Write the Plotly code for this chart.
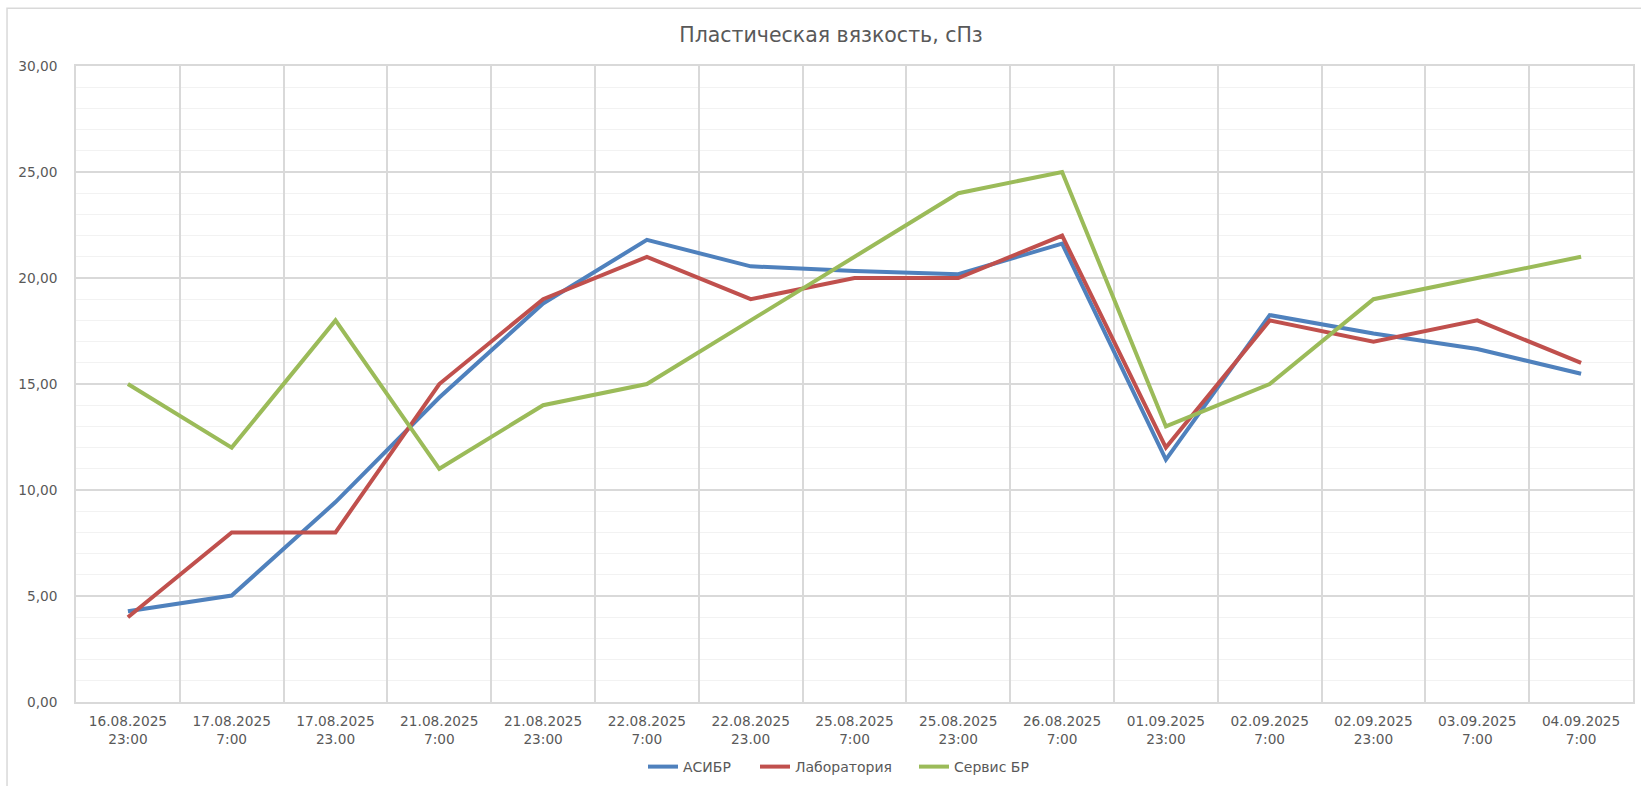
import plotly.graph_objects as go

categories = [
    "16.08.2025<br>23:00", "17.08.2025<br>7:00", "17.08.2025<br>23.00",
    "21.08.2025<br>7:00", "21.08.2025<br>23:00", "22.08.2025<br>7:00",
    "22.08.2025<br>23.00", "25.08.2025<br>7:00", "25.08.2025<br>23:00",
    "26.08.2025<br>7:00", "01.09.2025<br>23:00", "02.09.2025<br>7:00",
    "02.09.2025<br>23:00", "03.09.2025<br>7:00", "04.09.2025<br>7:00",
]
asibr = [4.28, 5.02, 9.43, 14.36, 18.8, 21.8, 20.55, 20.33, 20.18, 21.62, 11.43, 18.25, 17.38, 16.65, 15.48]
laboratoriya = [4, 8, 8, 15, 19, 21, 19, 20, 20, 22, 12, 18, 17, 18, 16]
servis_br = [15, 12, 18, 11, 14, 15, 18, 21, 24, 25, 13, 15, 19, 20, 21]

series_names = ["АСИБР", "Лаборатория", "Сервис БР"]
series_colors = ["#4F81BD", "#C0504D", "#9BBB59"]
title_text = "Пластическая вязкость, сПз"

FONT = "DejaVu Sans"
TXT = "#595959"
GRID = "#D9D9D9"
W, H = 1641, 786

legend_ids = ["legend", "legend2", "legend3"]
legend_text_x = [683, 795, 954]  # left edge of each legend label, px

fig = go.Figure()
for name, vals, col, lid in zip(series_names, [asibr, laboratoriya, servis_br], series_colors, legend_ids):
    fig.add_trace(go.Scatter(
        x=categories, y=vals, name=name, mode="lines",
        line=dict(color=col, width=4), legend=lid,
    ))

legend_layout = {}
for lid, tx in zip(legend_ids, legend_text_x):
    legend_layout[lid] = dict(
        orientation="h", x=(tx - 40) / W, xref="container", xanchor="left",
        y=1 - 767 / H, yref="container", yanchor="middle",
        font=dict(family=FONT, size=14, color=TXT),
        bgcolor="rgba(0,0,0,0)", borderwidth=0,
    )

fig.update_layout(
    width=W, height=H,
    paper_bgcolor="white", plot_bgcolor="white",
    separators=",.",
    margin=dict(l=76, r=8, t=66, b=84, autoexpand=False),
    font=dict(family=FONT, size=13.7, color=TXT),
    title=dict(text=title_text, x=831 / W, xref="container", xanchor="center",
               y=1 - 35 / H, yref="container", yanchor="middle",
               font=dict(family=FONT, size=20.5, color=TXT)),
    showlegend=True,
    shapes=[dict(type="rect", xref="paper", yref="paper",
                 x0=-0.0443, x1=1.2, y0=-0.3, y1=1.0907,
                 line=dict(color=GRID, width=1.5), fillcolor="rgba(0,0,0,0)", layer="below")],
    **legend_layout,
)

fig.update_xaxes(
    type="category", tickson="boundaries", ticks="",
    range=[-0.5, len(categories) - 0.5],
    showgrid=True, gridcolor=GRID, gridwidth=1.5,
    showline=True, linecolor=GRID, linewidth=1.5, mirror=True,
    tickfont=dict(family=FONT, size=13.7, color=TXT),
    ticklabelstandoff=6, zeroline=False,
)
fig.update_yaxes(
    range=[0, 30], dtick=5, tick0=0, tickformat=".2f", ticks="",
    showgrid=True, gridcolor=GRID, gridwidth=1.5,
    minor=dict(dtick=1, showgrid=True, gridcolor="#F2F2F2", gridwidth=1),
    showline=True, linecolor=GRID, linewidth=1.5, mirror=True,
    zeroline=False,
    tickfont=dict(family=FONT, size=13.7, color=TXT),
    ticklabelstandoff=14,
)

fig.write_html(
    "out.html",
    config={"displayModeBar": False},
    post_script="document.body.style.margin='0';document.body.style.overflow='hidden';",
)
